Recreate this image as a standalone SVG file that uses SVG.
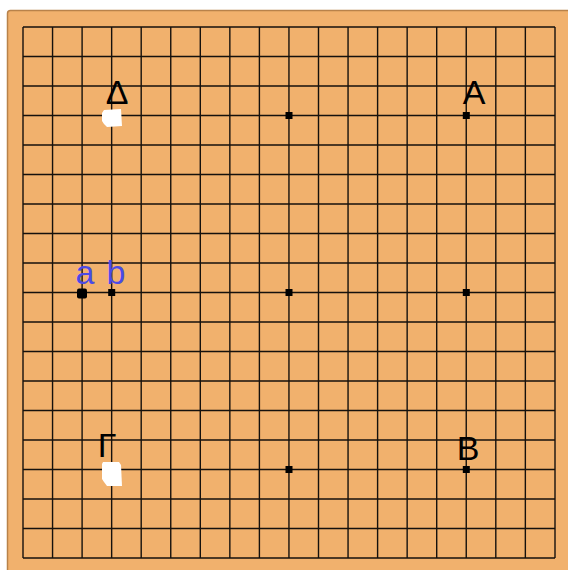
<svg xmlns="http://www.w3.org/2000/svg" width="568" height="570" viewBox="0 0 568 570">
<style>
.grid line{stroke:#15110d;stroke-width:1.4}
.hoshi{fill:#000}
.lbl{font-family:"Liberation Sans","DejaVu Sans",sans-serif;font-size:34px;fill:#000;text-anchor:middle}
.blue{fill:#4a4ae6}
.white{fill:#fff}
</style>
<rect x="0" y="0" width="568" height="570" fill="#fff"/>
<rect id="board" x="7.5" y="10.5" width="572" height="572" rx="3" fill="#F1B16D" stroke="#b8824a" stroke-width="1.5"/>
<g id="grid" class="grid">
<line x1="23" y1="27" x2="555" y2="27"/><line x1="23" y1="56.5" x2="555" y2="56.5"/><line x1="23" y1="86" x2="555" y2="86"/><line x1="23" y1="115.5" x2="555" y2="115.5"/><line x1="23" y1="145" x2="555" y2="145"/><line x1="23" y1="174.5" x2="555" y2="174.5"/><line x1="23" y1="204" x2="555" y2="204"/><line x1="23" y1="233.5" x2="555" y2="233.5"/><line x1="23" y1="263" x2="555" y2="263"/><line x1="23" y1="292.5" x2="555" y2="292.5"/><line x1="23" y1="322" x2="555" y2="322"/><line x1="23" y1="351.5" x2="555" y2="351.5"/><line x1="23" y1="381" x2="555" y2="381"/><line x1="23" y1="410.5" x2="555" y2="410.5"/><line x1="23" y1="440" x2="555" y2="440"/><line x1="23" y1="469.5" x2="555" y2="469.5"/><line x1="23" y1="499" x2="555" y2="499"/><line x1="23" y1="528.5" x2="555" y2="528.5"/><line x1="23" y1="558" x2="555" y2="558"/>
<line x1="23" y1="27" x2="23" y2="558"/><line x1="52.55" y1="27" x2="52.55" y2="558"/><line x1="82.1" y1="27" x2="82.1" y2="558"/><line x1="111.65" y1="27" x2="111.65" y2="558"/><line x1="141.2" y1="27" x2="141.2" y2="558"/><line x1="170.75" y1="27" x2="170.75" y2="558"/><line x1="200.3" y1="27" x2="200.3" y2="558"/><line x1="229.85" y1="27" x2="229.85" y2="558"/><line x1="259.4" y1="27" x2="259.4" y2="558"/><line x1="288.95" y1="27" x2="288.95" y2="558"/><line x1="318.5" y1="27" x2="318.5" y2="558"/><line x1="348.05" y1="27" x2="348.05" y2="558"/><line x1="377.6" y1="27" x2="377.6" y2="558"/><line x1="407.15" y1="27" x2="407.15" y2="558"/><line x1="436.7" y1="27" x2="436.7" y2="558"/><line x1="466.25" y1="27" x2="466.25" y2="558"/><line x1="495.8" y1="27" x2="495.8" y2="558"/><line x1="525.35" y1="27" x2="525.35" y2="558"/><line x1="555" y1="27" x2="555" y2="558"/>
</g>
<g id="hoshi" class="hoshi">
<rect x="108.2" y="112" width="7" height="7"/><rect x="285.5" y="112" width="7" height="7"/><rect x="462.8" y="112" width="7" height="7"/>
<rect x="108.2" y="289" width="7" height="7"/><rect x="285.5" y="289" width="7" height="7"/><rect x="462.8" y="289" width="7" height="7"/>
<rect x="108.2" y="466" width="7" height="7"/><rect x="285.5" y="466" width="7" height="7"/><rect x="462.8" y="466" width="7" height="7"/>
</g>
<g id="connectors"/>
<g id="node-delta">
<path class="white" d="M104,110 L121,109 L122,126 L107,127 L104,124 L102,121 L102,113 Z"/>
<text class="lbl" x="117" y="104">Δ</text>
</g>
<g id="node-A">
<text class="lbl" x="474" y="104">A</text>
</g>
<g id="node-gamma">
<path class="white" d="M103,462 L119,462 L121,465 L122,486 L107,486 L104,482 L102,479 L102,464 Z"/>
<text class="lbl" x="107" y="457">Γ</text>
</g>
<g id="node-B">
<text class="lbl" x="468" y="460">B</text>
</g>
<g id="node-a">
<rect x="77" y="288.5" width="10" height="10" rx="2" fill="#000"/>
<text class="lbl blue" x="85" y="284">a</text>
</g>
<g id="node-b">
<text class="lbl blue" x="116" y="284">b</text>
</g>
</svg>
